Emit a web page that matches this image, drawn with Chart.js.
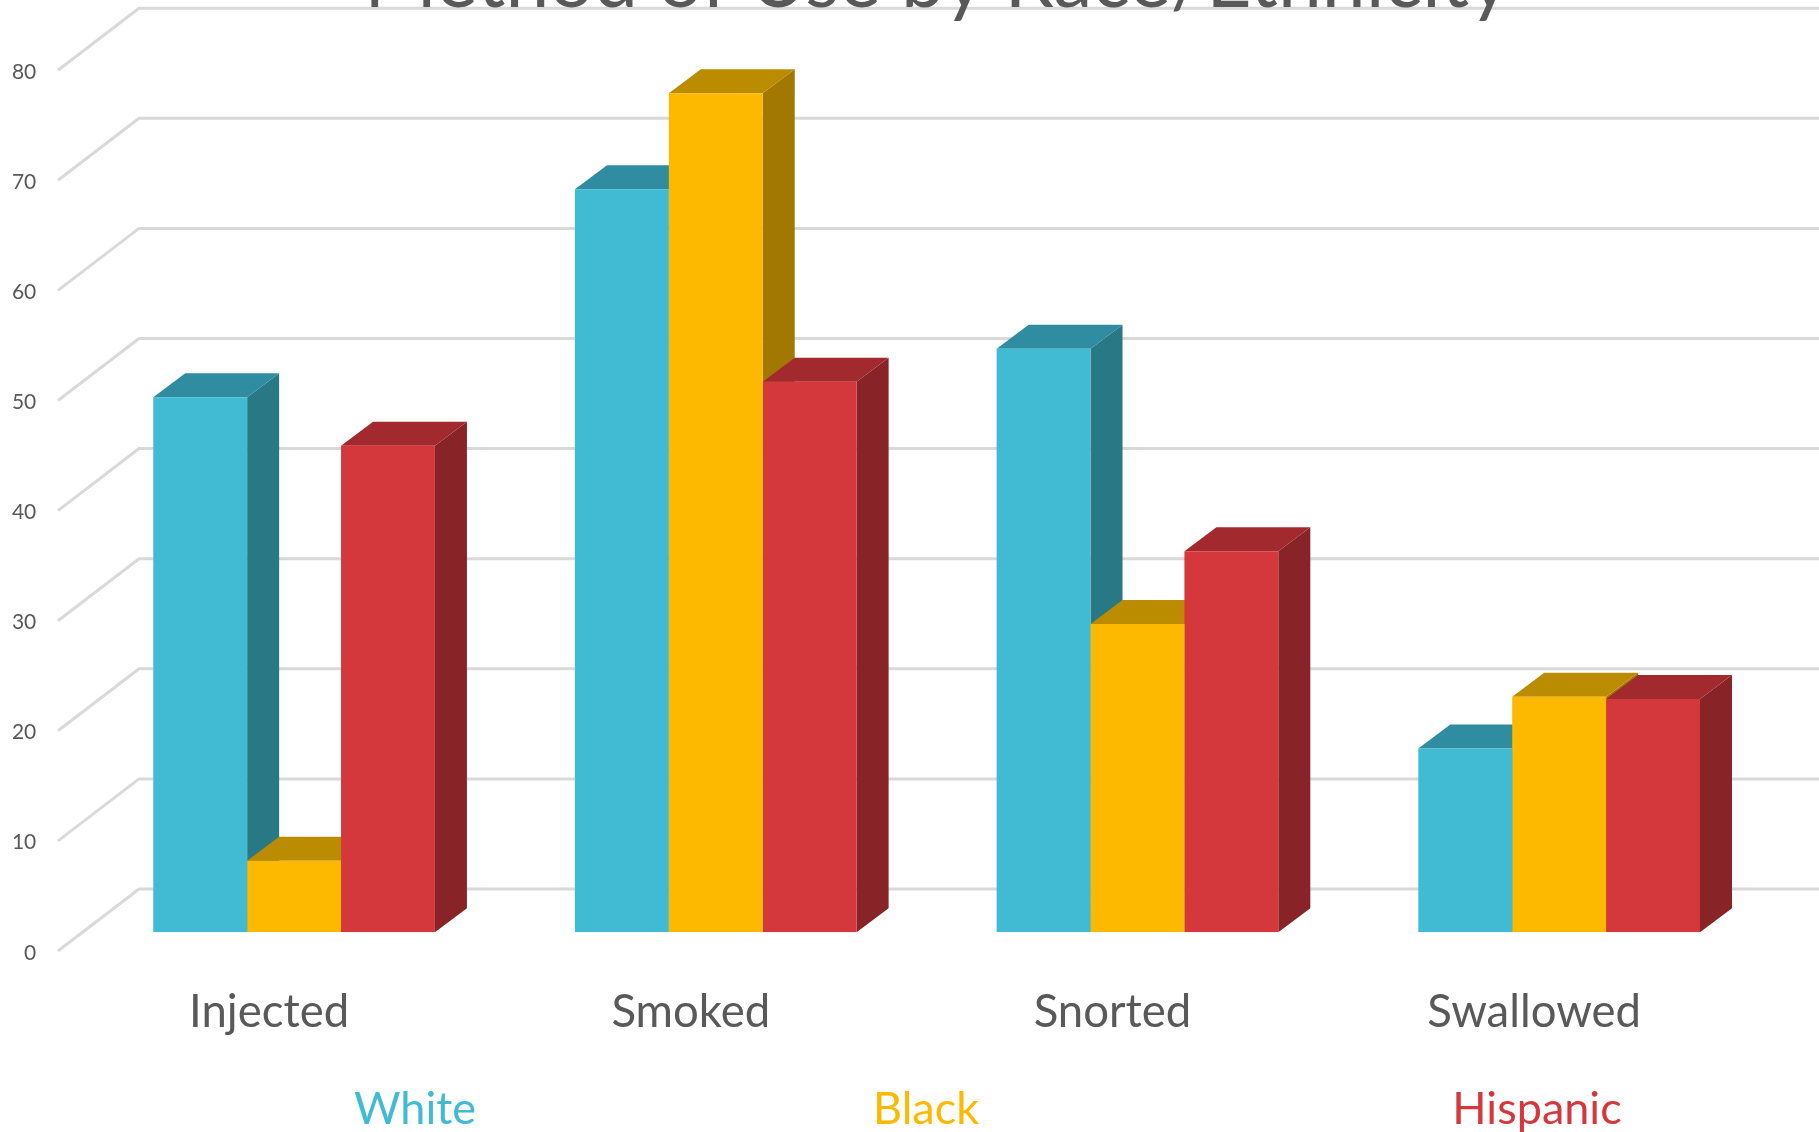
<!DOCTYPE html>
<html>
<head>
<meta charset="utf-8">
<title>Method of Use by Race/Ethnicity</title>
<script src="https://cdn.jsdelivr.net/npm/chart.js@4/dist/chart.umd.js"></script>
<style>
  html, body { margin: 0; background: #fff; overflow: hidden; }
  canvas { display: block; }
</style>
</head>
<body>
<canvas id="chart" width="1819" height="1132"></canvas>
<script>
const TITLE = 'Method of Use by Race/Ethnicity';
const METHODS = ['Injected', 'Smoked', 'Snorted', 'Swallowed'];
const WHITE = [48.6, 67.5, 53.0, 16.7];
const BLACK = [6.5, 76.2, 28.0, 21.4];
const HISPANIC = [44.2, 50.0, 34.6, 21.2];
const TEXT = '#595959';
const FONT = 'Lato, sans-serif';

// front, top and side faces of each series
const FACES = {
  White: ['#41bad4', '#308da1', '#287885'],
  Black: ['#fcb900', '#bb8b00', '#a37800'],
  Hispanic: ['#d4383c', '#a2292e', '#882327'],
};
const LEGEND_X = { White: 415, Black: 926, Hispanic: 1537 };

function poly(ctx, color, pts) {
  ctx.fillStyle = color;
  ctx.beginPath();
  pts.forEach((p, i) => i ? ctx.lineTo(p[0], p[1]) : ctx.moveTo(p[0], p[1]));
  ctx.closePath();
  ctx.fill();
}

// Walls and bar depth: Chart.js has no 3D bars, so the extra faces hang off its scales.
const depth3d = {
  id: 'depth3d',
  beforeDatasetsDraw(chart) {
    const { ctx, scales: { y }, width } = chart;
    ctx.save();
    ctx.strokeStyle = '#d9d9d9';
    ctx.lineWidth = 3;
    y.ticks.forEach(t => {
      const py = y.getPixelForValue(t.value);
      ctx.beginPath();
      ctx.moveTo(58, py + 18.7);
      ctx.lineTo(139, py - 43.3);
      ctx.lineTo(width, py - 43.3);
      ctx.stroke();
    });
    const dx = 32, dy = 24;
    chart.data.datasets.forEach((ds, i) => {
      const f = FACES[ds.label];
      chart.getDatasetMeta(i).data.forEach(bar => {
        const { x, y: top, base, width: w } = bar.getProps(['x', 'y', 'base', 'width'], true);
        const l = x - w / 2, r = x + w / 2;
        poly(ctx, f[2], [[r, top], [r + dx, top - dy], [r + dx, base - dy], [r, base]]);
        poly(ctx, f[1], [[l, top], [l + dx, top - dy], [r + dx, top - dy], [r, top]]);
      });
    });
    ctx.restore();
  },
  afterDraw(chart) {
    const { ctx } = chart;
    ctx.save();
    ctx.textAlign = 'center';
    ctx.textBaseline = 'alphabetic';
    ctx.fillStyle = TEXT;
    ctx.font = '78.6px ' + FONT;
    ctx.fillText(TITLE, 937, 7);
    ctx.font = '45px ' + FONT;
    chart.data.datasets.forEach(ds => {
      ctx.fillStyle = FACES[ds.label][0];
      ctx.fillText(ds.label, LEGEND_X[ds.label], 1124);
    });
    ctx.restore();
  },
};

new Chart(document.getElementById('chart'), {
  type: 'bar',
  data: {
    labels: METHODS,
    datasets: [
      { label: 'White', data: WHITE, backgroundColor: FACES.White[0] },
      { label: 'Black', data: BLACK, backgroundColor: FACES.Black[0] },
      { label: 'Hispanic', data: HISPANIC, backgroundColor: FACES.Hispanic[0] },
    ],
  },
  plugins: [depth3d],
  options: {
    responsive: false,
    animation: false,
    layout: { padding: { top: 51.5, right: 49 } },
    datasets: { bar: { categoryPercentage: 0.668, barPercentage: 1 } },
    plugins: { legend: { display: false }, title: { display: false } },
    scales: {
      x: {
        grid: { display: false, drawTicks: false },
        border: { display: false },
        afterFit(s) { s.height = 199.7; },
        ticks: {
          color: TEXT,
          font: { family: FONT, size: 45.5 },
          padding: 53,
          labelOffset: -25,
          maxRotation: 0,
        },
      },
      y: {
        min: 0,
        max: 80,
        grid: { display: false, drawTicks: false },
        border: { display: false },
        // tick padding would otherwise push the plot top down
        afterFit(s) { s.width = 83.25; s.paddingTop = 0; },
        ticks: {
          stepSize: 10,
          color: TEXT,
          font: { family: FONT, size: 21 },
          padding: 47,
          labelOffset: 20.5,
        },
      },
    },
  },
});
</script>
</body>
</html>
